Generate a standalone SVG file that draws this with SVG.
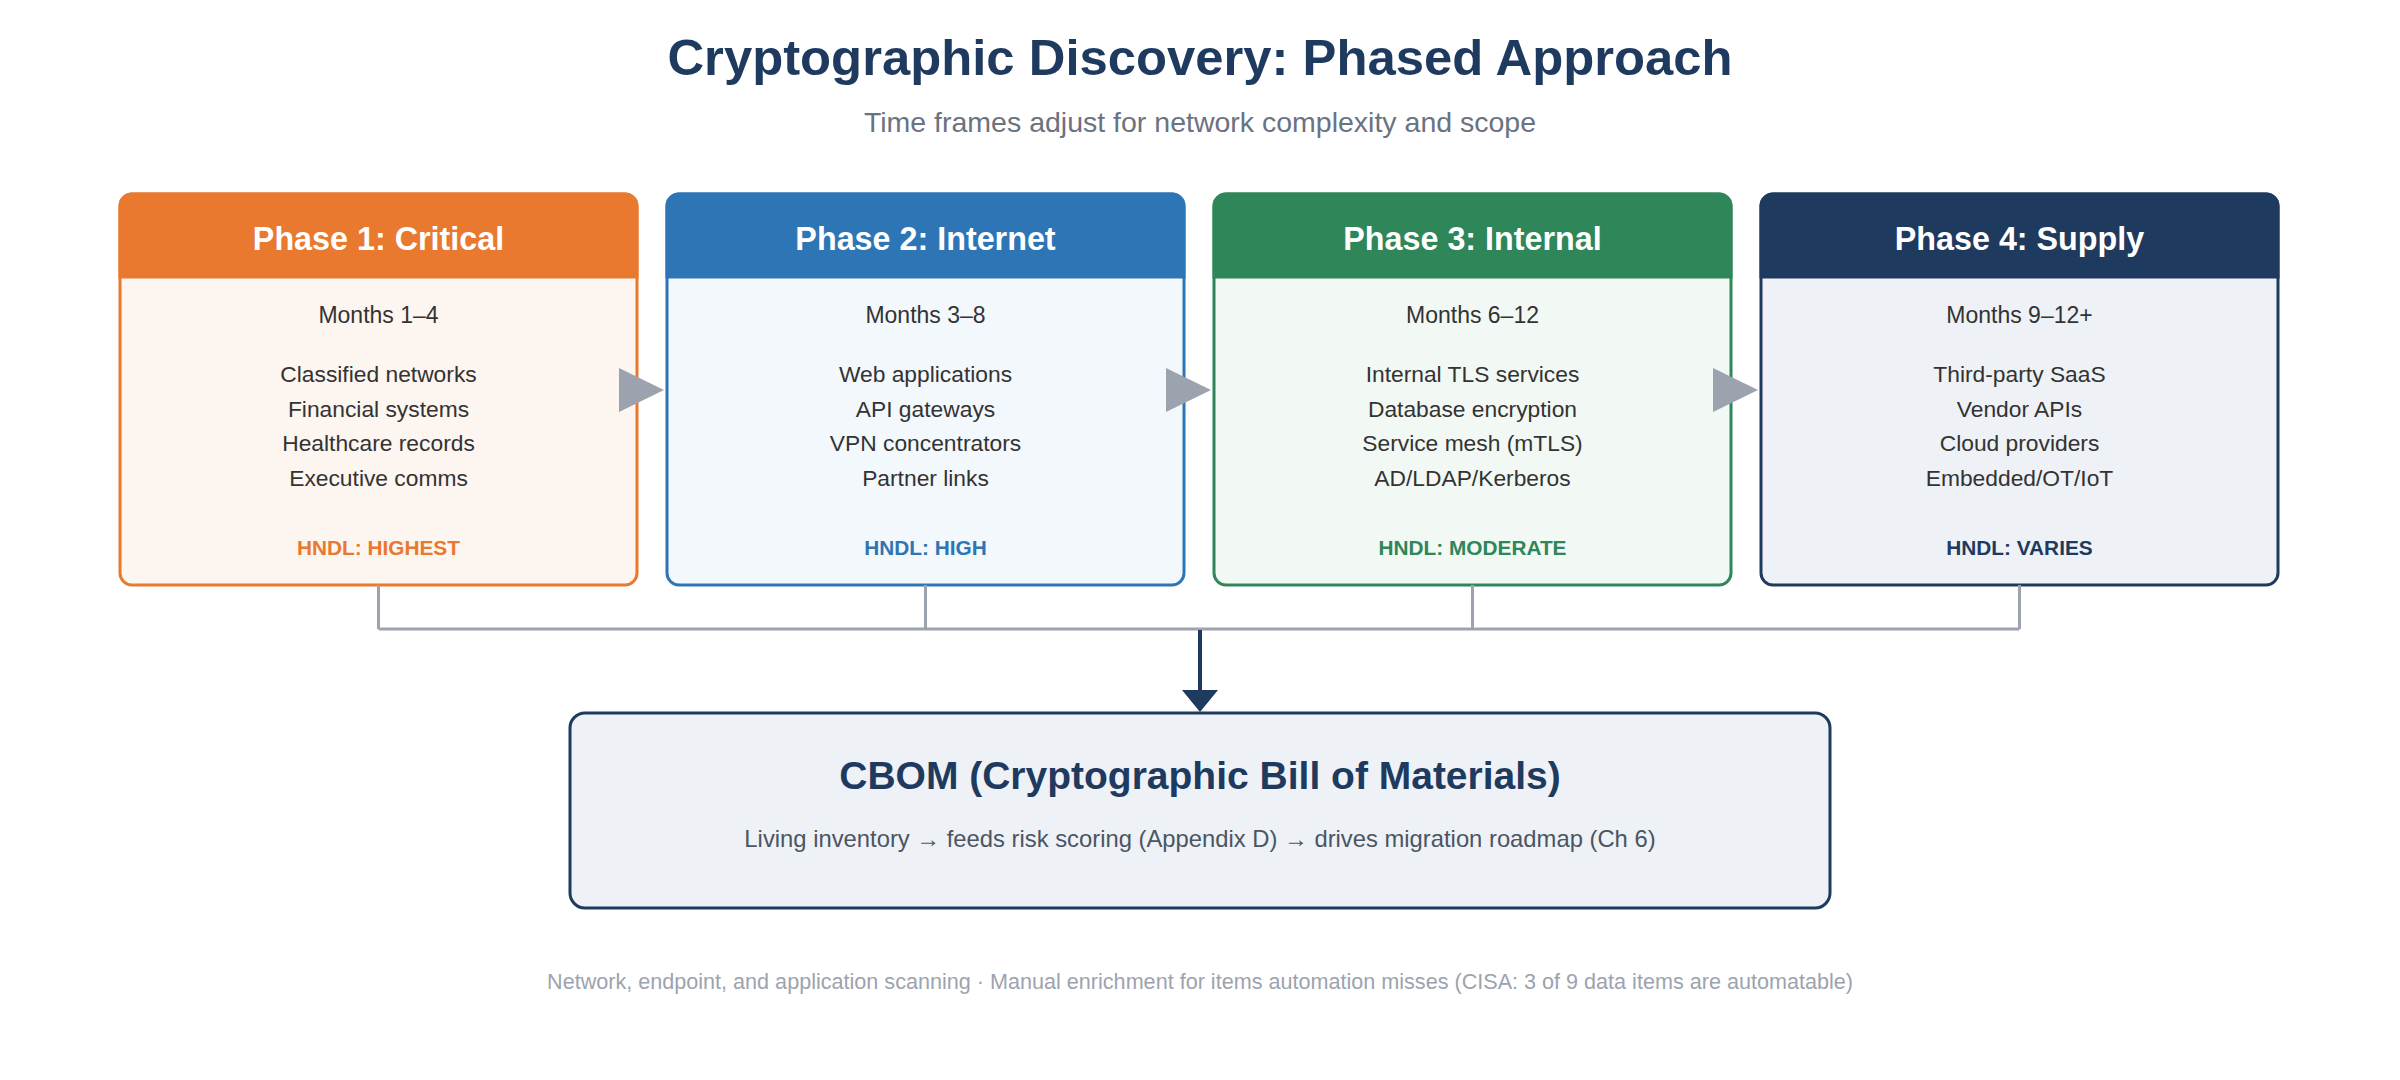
<svg xmlns="http://www.w3.org/2000/svg" width="2400" height="1080" viewBox="0 0 2400 1080">
<defs>
<style>
text{font-family:"Liberation Sans",Arial,Helvetica,sans-serif;text-anchor:middle}
.title{font-size:50.8px;font-weight:bold;fill:#1e3a5f}
.sub{font-size:28.5px;fill:#6b7280}
.hdr{font-size:32.3px;font-weight:bold;fill:#ffffff}
.mon{font-size:23px;fill:#333333}
.item{font-size:22.8px;fill:#333333}
.hndl{font-size:20.8px;font-weight:bold}
.cbt{font-size:39px;font-weight:bold;fill:#1e3a5f}
.cbs{font-size:23.8px;fill:#4b5563}
.foot{font-size:21.6px;fill:#9ca3af}
.conn{stroke:#9ca3af;stroke-width:3;fill:none}
.tri{fill:#9ca3af}
</style>
</defs>
<rect width="2400" height="1080" fill="#ffffff"/>
<text class="title" x="1200" y="75">Cryptographic Discovery: Phased Approach</text>
<text class="sub" x="1200" y="132">Time frames adjust for network complexity and scope</text>

<g id="phase1">
<rect x="120" y="194" width="517" height="391" rx="12" fill="#fdf5ef" stroke="#e8792f" stroke-width="3"/>
<path d="M120,277 V206 A12,12 0 0 1 132,194 H625 A12,12 0 0 1 637,206 V277 Z" fill="#e8792f" stroke="#e8792f" stroke-width="3"/>
<text class="hdr" x="378.5" y="250">Phase 1: Critical</text>
<text class="mon" x="378.5" y="323">Months 1–4</text>
<text class="item" x="378.5" y="382">Classified networks</text>
<text class="item" x="378.5" y="417">Financial systems</text>
<text class="item" x="378.5" y="451">Healthcare records</text>
<text class="item" x="378.5" y="486">Executive comms</text>
<text class="hndl" x="378.5" y="555" fill="#e8792f">HNDL: HIGHEST</text>
</g>

<g id="phase2">
<rect x="667" y="194" width="517" height="391" rx="12" fill="#f3f8fc" stroke="#2e75b6" stroke-width="3"/>
<path d="M667,277 V206 A12,12 0 0 1 679,194 H1172 A12,12 0 0 1 1184,206 V277 Z" fill="#2e75b6" stroke="#2e75b6" stroke-width="3"/>
<text class="hdr" x="925.5" y="250">Phase 2: Internet</text>
<text class="mon" x="925.5" y="323">Months 3–8</text>
<text class="item" x="925.5" y="382">Web applications</text>
<text class="item" x="925.5" y="417">API gateways</text>
<text class="item" x="925.5" y="451">VPN concentrators</text>
<text class="item" x="925.5" y="486">Partner links</text>
<text class="hndl" x="925.5" y="555" fill="#2e75b6">HNDL: HIGH</text>
</g>

<g id="phase3">
<rect x="1214" y="194" width="517" height="391" rx="12" fill="#f2f8f4" stroke="#2e8659" stroke-width="3"/>
<path d="M1214,277 V206 A12,12 0 0 1 1226,194 H1719 A12,12 0 0 1 1731,206 V277 Z" fill="#2e8659" stroke="#2e8659" stroke-width="3"/>
<text class="hdr" x="1472.5" y="250">Phase 3: Internal</text>
<text class="mon" x="1472.5" y="323">Months 6–12</text>
<text class="item" x="1472.5" y="382">Internal TLS services</text>
<text class="item" x="1472.5" y="417">Database encryption</text>
<text class="item" x="1472.5" y="451">Service mesh (mTLS)</text>
<text class="item" x="1472.5" y="486">AD/LDAP/Kerberos</text>
<text class="hndl" x="1472.5" y="555" fill="#2e8659">HNDL: MODERATE</text>
</g>

<g id="phase4">
<rect x="1761" y="194" width="517" height="391" rx="12" fill="#eef1f6" stroke="#1e3a5f" stroke-width="3"/>
<path d="M1761,277 V206 A12,12 0 0 1 1773,194 H2266 A12,12 0 0 1 2278,206 V277 Z" fill="#1e3a5f" stroke="#1e3a5f" stroke-width="3"/>
<text class="hdr" x="2019.5" y="250">Phase 4: Supply</text>
<text class="mon" x="2019.5" y="323">Months 9–12+</text>
<text class="item" x="2019.5" y="382">Third-party SaaS</text>
<text class="item" x="2019.5" y="417">Vendor APIs</text>
<text class="item" x="2019.5" y="451">Cloud providers</text>
<text class="item" x="2019.5" y="486">Embedded/OT/IoT</text>
<text class="hndl" x="2019.5" y="555" fill="#1e3a5f">HNDL: VARIES</text>
</g>

<g id="cbom">
<rect x="570" y="713" width="1260" height="195" rx="15" fill="#eef1f6" stroke="#1e3a5f" stroke-width="3"/>
<text class="cbt" x="1200" y="789">CBOM (Cryptographic Bill of Materials)</text>
<text class="cbs" x="1200" y="847">Living inventory → feeds risk scoring (Appendix D) → drives migration roadmap (Ch 6)</text>
</g>

<g id="connectors">
<polygon class="tri" points="619,368 664,390 619,412"/>
<polygon class="tri" points="1166,368 1211,390 1166,412"/>
<polygon class="tri" points="1713,368 1758,390 1713,412"/>
<path class="conn" d="M378.5,585 V629 M925.5,585 V629 M1472.5,585 V629 M2019.5,585 V629 M378.5,629 H2019.5"/>
<line x1="1200" y1="630" x2="1200" y2="692" stroke="#1e3a5f" stroke-width="4"/>
<polygon points="1182,690 1218,690 1200,712" fill="#1e3a5f"/>
</g>

<text class="foot" x="1200" y="989">Network, endpoint, and application scanning · Manual enrichment for items automation misses (CISA: 3 of 9 data items are automatable)</text>
</svg>
